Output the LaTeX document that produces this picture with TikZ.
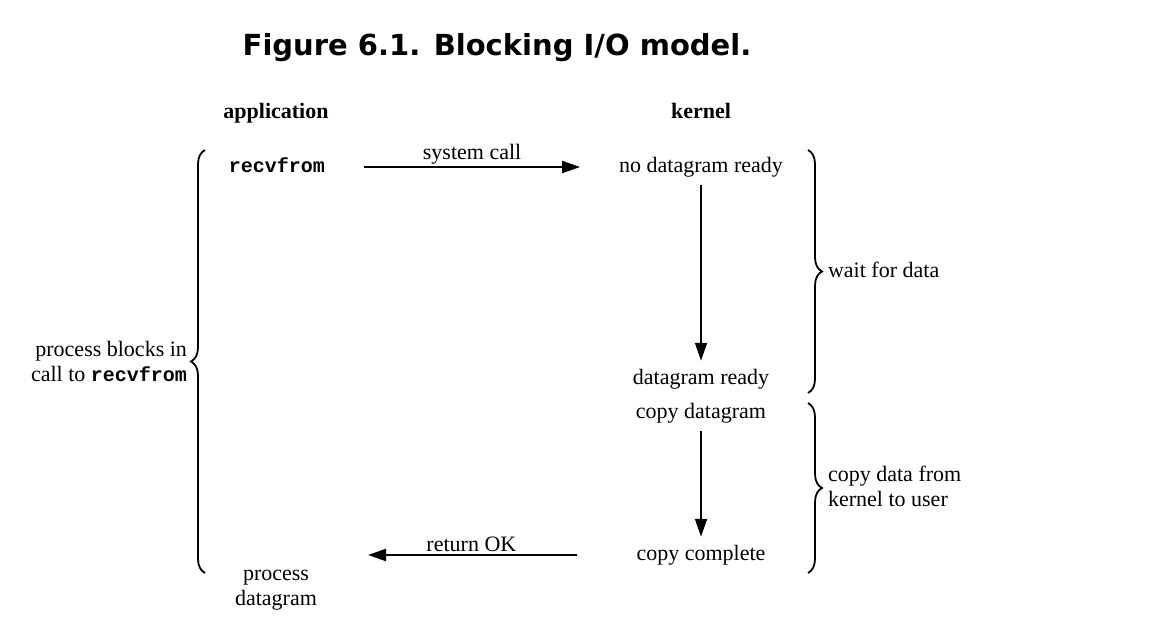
\documentclass[tikz,border=0pt]{standalone}
\usepackage{fontspec}
\setmainfont{Liberation Serif}
\setmonofont{Liberation Mono}
\newfontfamily\titlefont{DejaVu Sans}
\usetikzlibrary{arrows.meta,decorations.pathreplacing}
\begin{document}
\begin{tikzpicture}[
   x=0.5pt,y=-0.5pt,
   every node/.style={font=\fontsize{11}{12.5}\selectfont},
   line/.style={text height=1.6ex,text depth=.4ex},
   hd/.style={line,font=\fontsize{11}{12.5}\selectfont\bfseries},
   cmd/.style={line,font=\fontsize{10}{12.5}\selectfont\ttfamily\bfseries},
   ttl/.style={font=\fontsize{14.5}{17}\selectfont\titlefont\bfseries},
   to/.style={-{Triangle[length=9pt,width=6pt]},line width=1pt,shorten >=1pt,shorten <=1pt},
   brc/.style={decorate,decoration={brace,amplitude=7pt},line width=.9pt}]
\useasboundingbox (0,0) rectangle (1154,630);
\node[ttl] (title) at (497,48) {Figure 6.1. Blocking I/O model.};
\node[hd] (app) at (276,113) {application};
\node[hd] (kern) at (701,113) {kernel};
\node[cmd] (rcv) at (277,167) {recvfrom};
\node[line] (nodg) at (701,167) {no datagram ready};
\node[line] (dgr) at (701,379) {datagram ready};
\node[line] (cpd) at (701,413) {copy datagram};
\node[line] (cc) at (701,555) {copy complete};
\node[align=center] (pd) at (276,590) {process\\datagram};
\coordinate (ret) at (366,555);
\node[anchor=east,align=right] (blk) at (194,361) {process blocks in\\call to {\fontsize{10}{12.5}\selectfont\ttfamily\bfseries recvfrom}};
\node[anchor=west,align=left] (wait) at (821,270) {wait for data};
\node[anchor=west,align=left] (cpy) at (821,486) {copy data from\\kernel to user};
\draw[to,shorten <=16pt,shorten >=16pt] (rcv) -- (nodg) node[midway,above,inner sep=1pt] {system call};
\draw[to] (nodg) -- (dgr);
\draw[to] (cpd) -- (cc);
\draw[to,shorten <=26pt] (cc.west) -- (ret) node[pos=.6,above,inner sep=1pt] {return OK};
\draw[brc] (205,573) -- (205,150);
\draw[brc] (808,150) -- (808,393);
\draw[brc] (808,403) -- (808,573);
\end{tikzpicture}
\end{document}
